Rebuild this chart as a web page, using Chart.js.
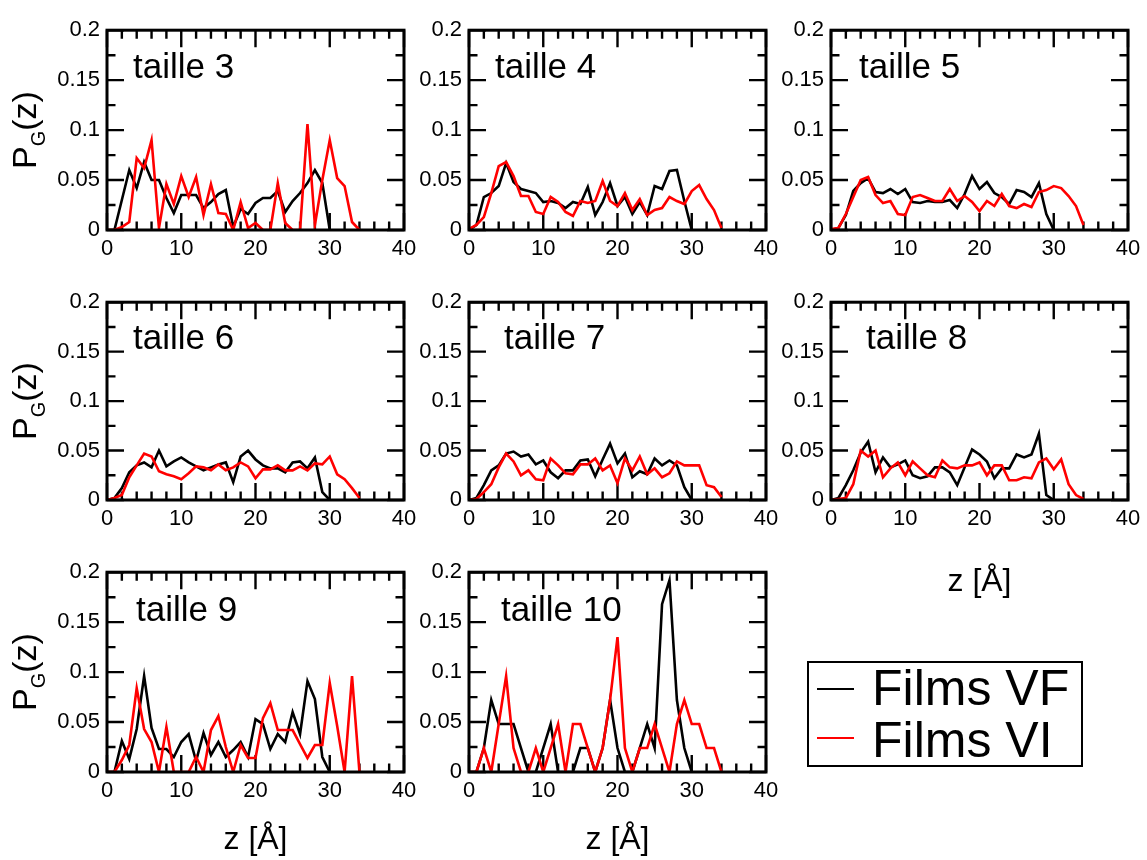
<!DOCTYPE html>
<html>
<head>
<meta charset="utf-8">
<script src="https://cdn.jsdelivr.net/npm/chart.js@4.4.1/dist/chart.umd.min.js"></script>
<style>
  body { margin: 0; background: #fff; width: 1147px; height: 860px; overflow: hidden; position: relative;
         font-family: "Liberation Sans", Arial, sans-serif; }
  canvas { position: absolute; }
  #legende { position: absolute; left: 807px; top: 661px; width: 276px; height: 106px;
             border: 2px solid #000; box-sizing: border-box; background: #fff; }
  #legende .trait { position: absolute; left: 8px; width: 37px; height: 2px; }
  #legende .txt { position: absolute; left: 63px; font-size: 50px; line-height: 50px; white-space: nowrap; color: #000; }
</style>
</head>
<body>

<div id="legende">
  <div class="trait" style="top:25px;background:#000"></div>
  <div class="txt" style="top:0px">Films VF</div>
  <div class="trait" style="top:74px;background:#ff0000"></div>
  <div class="txt" style="top:52px">Films VI</div>
</div>

<script>
// positions en z (Å)
const z = [0,1,2,3,4,5,6,7,8,9,10,11,12,13,14,15,16,17,18,19,20,21,22,23,24,25,26,27,28,29,30,31,32,33,34];

// Films VF (noir) et Films VI (rouge), P_G(z) par taille
const vf3 = [0,0,0.03,0.06,0.042,0.068,0.05,0.05,0.032,0.017,0.035,0.035,0.035,0.022,0.028,0.036,0.04,0.003,0.021,0.016,0.027,0.032,0.032,0.039,0.018,0.029,0.037,0.047,0.06,0.047,0];
const vi3 = [0,0,0.003,0.008,0.072,0.062,0.09,0.002,0.046,0.026,0.054,0.033,0.053,0.015,0.046,0.017,0.016,0,0.028,0.002,0.007,0,0,0.047,0.007,0,0,0.106,0.005,0.05,0.09,0.052,0.044,0.008,0];

const vf4 = [0,0.005,0.033,0.037,0.044,0.067,0.048,0.041,0.039,0.037,0.028,0.029,0.027,0.022,0.028,0.026,0.043,0.015,0.028,0.047,0.024,0.033,0.016,0.028,0.015,0.044,0.041,0.059,0.06,0.029,0];
const vi4 = [0.001,0.005,0.013,0.037,0.064,0.068,0.054,0.034,0.034,0.018,0.016,0.033,0.028,0.018,0.014,0.029,0.027,0.029,0.049,0.029,0.024,0.037,0.02,0.031,0.015,0.02,0.022,0.033,0.029,0.026,0.039,0.045,0.031,0.02,0.002];

const vf5 = [0,0.002,0.015,0.039,0.047,0.052,0.038,0.037,0.041,0.036,0.041,0.028,0.027,0.029,0.028,0.028,0.03,0.022,0.036,0.054,0.041,0.048,0.037,0.033,0.026,0.04,0.038,0.033,0.047,0.016,0];
const vi5 = [0.001,0.002,0.016,0.033,0.05,0.053,0.035,0.027,0.029,0.016,0.015,0.033,0.035,0.032,0.029,0.029,0.041,0.029,0.034,0.028,0.019,0.029,0.024,0.036,0.024,0.022,0.026,0.023,0.038,0.04,0.044,0.042,0.034,0.024,0.005];

const vf6 = [0,0.002,0.012,0.028,0.035,0.038,0.033,0.05,0.034,0.039,0.043,0.038,0.034,0.03,0.033,0.036,0.038,0.018,0.044,0.05,0.041,0.035,0.032,0.032,0.028,0.038,0.039,0.032,0.043,0.008,0];
const vi6 = [0,0.002,0.005,0.023,0.035,0.047,0.044,0.029,0.026,0.024,0.021,0.027,0.034,0.033,0.03,0.036,0.03,0.033,0.038,0.034,0.022,0.031,0.031,0.035,0.03,0.03,0.034,0.03,0.037,0.036,0.044,0.026,0.021,0.012,0.002];

const vf7 = [0,0.002,0.015,0.03,0.035,0.047,0.049,0.044,0.046,0.036,0.04,0.028,0.022,0.03,0.03,0.04,0.041,0.024,0.041,0.057,0.037,0.047,0.023,0.029,0.026,0.042,0.035,0.04,0.035,0.013,0];
const vi7 = [0,0.001,0.008,0.016,0.033,0.047,0.039,0.025,0.03,0.021,0.02,0.042,0.035,0.027,0.026,0.036,0.036,0.042,0.03,0.035,0.017,0.042,0.03,0.044,0.026,0.032,0.023,0.027,0.039,0.035,0.035,0.035,0.015,0.013,0.003];

const vf8 = [0,0.002,0.015,0.03,0.048,0.059,0.028,0.043,0.033,0.036,0.04,0.025,0.022,0.024,0.033,0.033,0.028,0.015,0.033,0.051,0.046,0.039,0.022,0.032,0.032,0.046,0.043,0.046,0.067,0.005,0];
const vi8 = [0,0.001,0.002,0.016,0.05,0.044,0.05,0.023,0.032,0.038,0.025,0.039,0.032,0.025,0.023,0.04,0.033,0.032,0.035,0.035,0.038,0.025,0.035,0.035,0.02,0.02,0.023,0.022,0.038,0.042,0.031,0.041,0.016,0.005,0.001];

const vf9 = [0,0,0.031,0.013,0.043,0.096,0.044,0.023,0.023,0.015,0.03,0.038,0.011,0.039,0.017,0.03,0.015,0.022,0.03,0.015,0.053,0.048,0.023,0.038,0.03,0.06,0.038,0.091,0.073,0.015,0];
const vi9 = [0,0,0.012,0.027,0.084,0.043,0.03,0,0.045,0,0,0,0.015,0,0.042,0.056,0.025,0,0.027,0.014,0.014,0.054,0.069,0.042,0.042,0.042,0.028,0.014,0.027,0.027,0.089,0.046,0,0.096,0];

const vf10 = [0,0,0.024,0.072,0.048,0.048,0.048,0.024,0,0,0.024,0.048,0,0,0,0.024,0.024,0,0.024,0.072,0.024,0,0,0.024,0.048,0.024,0.168,0.192,0.072,0.024,0];
const vi10 = [0,0,0.024,0,0.048,0.096,0.024,0,0,0.024,0,0.024,0.048,0,0.048,0.048,0.024,0,0.024,0.072,0.135,0.024,0,0.024,0.024,0.048,0.024,0,0.048,0.072,0.048,0.048,0.024,0.024,0];

const police = '"Liberation Sans", Arial, sans-serif';
Chart.defaults.font.family = police;
Chart.defaults.color = '#000';

// mise en page des panneaux
const largeur = 297;
const colonnes = [107, 469, 831];
const lignes = [{haut: 25, h: 205, dy: 48}, {haut: 297, h: 203, dy: 47}, {haut: 567, h: 205, dy: 49}];

const panneaux = [
  {nom: 'taille 3', vf: vf3, vi: vi3, col: 0, lig: 0, dx: 26, bas: 40},
  {nom: 'taille 4', vf: vf4, vi: vi4, col: 1, lig: 0, dx: 26, bas: 40},
  {nom: 'taille 5', vf: vf5, vi: vi5, col: 2, lig: 0, dx: 28, bas: 40},
  {nom: 'taille 6', vf: vf6, vi: vi6, col: 0, lig: 1, dx: 26, bas: 40},
  {nom: 'taille 7', vf: vf7, vi: vi7, col: 1, lig: 1, dx: 35, bas: 40},
  {nom: 'taille 8', vf: vf8, vi: vi8, col: 2, lig: 1, dx: 35, bas: 101, titreX: true},
  {nom: 'taille 9', vf: vf9, vi: vi9, col: 0, lig: 2, dx: 29, bas: 87, titreX: true},
  {nom: 'taille 10', vf: vf10, vi: vi10, col: 1, lig: 2, dx: 32, bas: 87, titreX: true}
];

// cadre, graduations vers l'intérieur, étiquette et titre P_G(z)
const cadre = {
  id: 'cadre',
  beforeDatasetsDraw(chart, args, opts) {
    const {ctx, chartArea: a, scales: {x, y}} = chart;
    ctx.save();
    ctx.strokeStyle = '#000';
    ctx.lineWidth = 2.4;
    ctx.beginPath();
    for (let v = 0; v <= 40; v += 2) {
      const p = x.getPixelForValue(v);
      const l = v % 10 === 0 ? 17 : 8.5;
      ctx.moveTo(p, a.bottom); ctx.lineTo(p, a.bottom - l);
      ctx.moveTo(p, a.top); ctx.lineTo(p, a.top + l);
    }
    for (let i = 0; i <= 8; i++) {
      const p = y.getPixelForValue(i * 0.025);
      const l = i % 2 === 0 ? 17 : 8.5;
      ctx.moveTo(a.left, p); ctx.lineTo(a.left + l, p);
      ctx.moveTo(a.right, p); ctx.lineTo(a.right - l, p);
    }
    ctx.stroke();
    ctx.restore();
  },
  afterDatasetsDraw(chart, args, opts) {
    const {ctx, chartArea: a} = chart;
    ctx.save();
    ctx.strokeStyle = '#000';
    ctx.lineWidth = 3;
    ctx.strokeRect(a.left, a.top, a.width, a.height);
    ctx.fillStyle = '#000';
    ctx.textBaseline = 'alphabetic';
    ctx.font = '35px ' + police;
    ctx.fillText(opts.nom, a.left + opts.dx, a.top + opts.dy);

    if (opts.titreY) {
      ctx.translate(29, (a.top + a.bottom) / 2);
      ctx.rotate(-Math.PI / 2);
      const grand = '34px ' + police, petit = '20px ' + police;
      ctx.font = grand;
      const wP = ctx.measureText('P').width, wZ = ctx.measureText('(z)').width;
      ctx.font = petit;
      const wG = ctx.measureText('G').width;
      const x0 = -(wP + wG + wZ) / 2;
      ctx.font = grand; ctx.fillText('P', x0, 0);
      ctx.font = petit; ctx.fillText('G', x0 + wP, 9);
      ctx.font = grand; ctx.fillText('(z)', x0 + wP + wG, 0);
    }
    ctx.restore();
  }
};

panneaux.forEach(p => {
  const lg = lignes[p.lig];
  const c = document.createElement('canvas');
  c.width = largeur + 100 + 22;
  c.height = lg.h + 15 + p.bas;
  c.style.left = (colonnes[p.col] - 100) + 'px';
  c.style.top = (lg.haut - 15) + 'px';
  document.body.appendChild(c);

  new Chart(c, {
    type: 'line',
    data: {
      datasets: [
        {
          label: 'Films VI',
          data: p.vi.map((v, i) => ({x: z[i], y: v})),
          borderColor: '#ff0000',
          borderWidth: 2.6,
          pointRadius: 0,
          tension: 0,
          fill: false
        },
        {
          label: 'Films VF',
          data: p.vf.map((v, i) => ({x: z[i], y: v})),
          borderColor: '#000000',
          borderWidth: 2.6,
          pointRadius: 0,
          tension: 0,
          fill: false
        }
      ]
    },
    options: {
      responsive: false,
      animation: false,
      layout: {padding: {left: 0, top: 15, right: 22, bottom: 0}},
      plugins: {
        legend: {display: false},
        tooltip: {enabled: false},
        cadre: {nom: p.nom, dx: p.dx, dy: lg.dy, titreY: p.col === 0}
      },
      scales: {
        x: {
          type: 'linear',
          min: 0, max: 40,
          grid: {display: false, drawTicks: false},
          border: {display: false},
          ticks: {stepSize: 10, padding: 6, maxRotation: 0, font: {size: 22}, color: '#000'},
          title: {display: !!p.titreX, text: 'z [Å]', font: {size: 32}, padding: 0, color: '#000'},
          afterFit: s => { s.height = p.bas; }
        },
        y: {
          min: 0, max: 0.2,
          grid: {display: false, drawTicks: false},
          border: {display: false},
          ticks: {
            stepSize: 0.05, padding: 7, font: {size: 22}, color: '#000',
            callback: v => String(Number(v.toFixed(3)))
          },
          afterFit: s => { s.width = 100; }
        }
      }
    },
    plugins: [cadre]
  });
});
</script>
</body>
</html>
